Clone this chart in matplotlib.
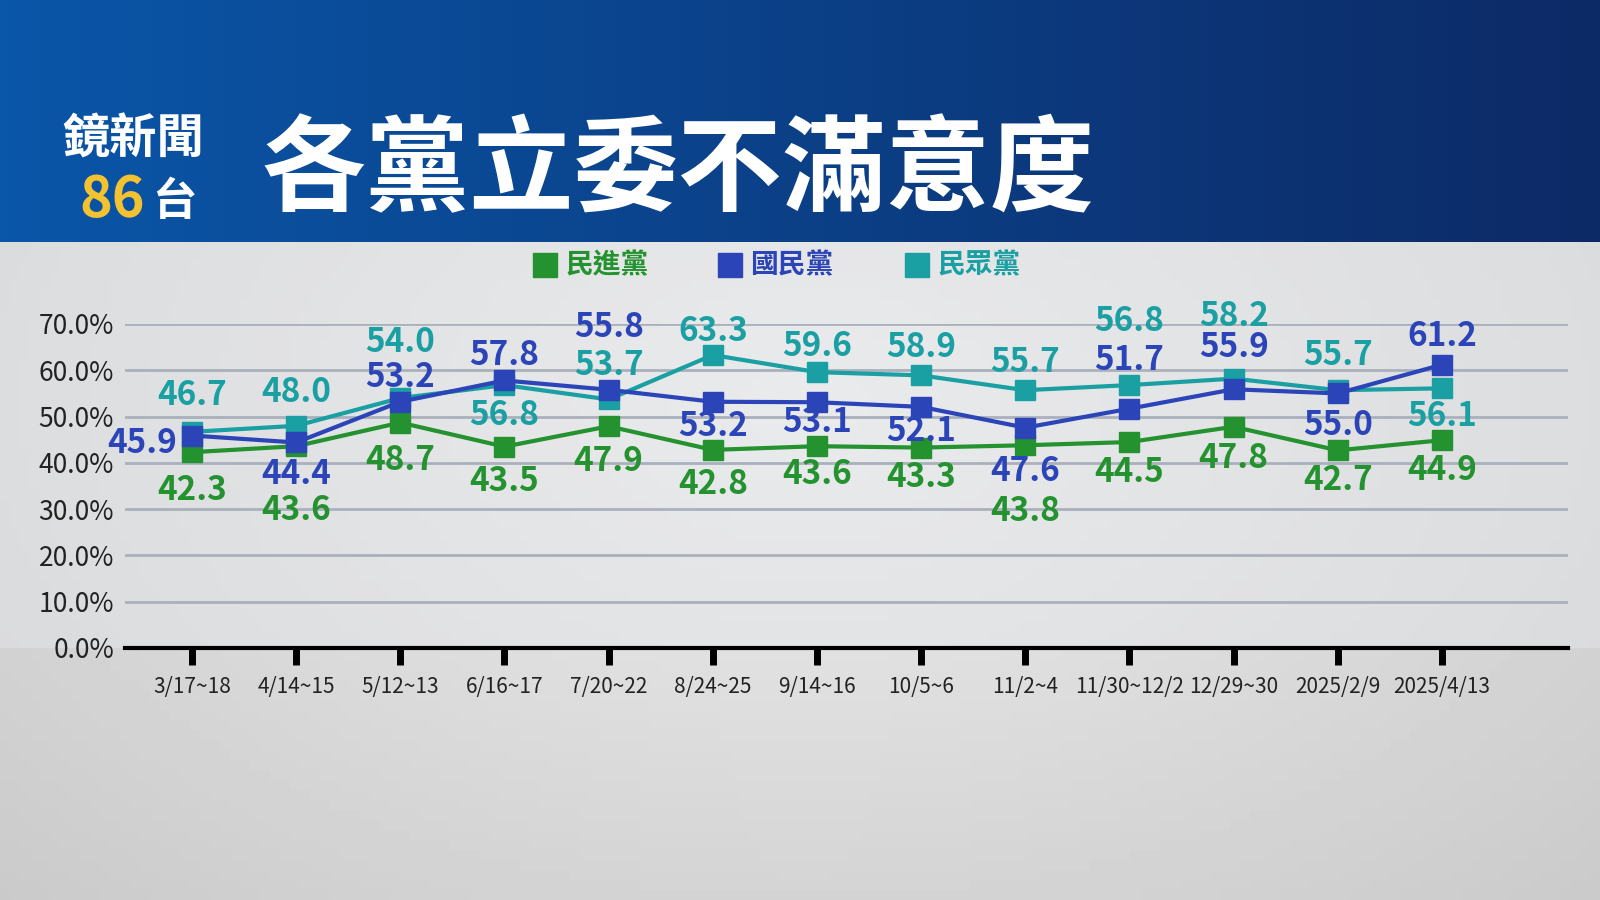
import matplotlib
matplotlib.use("Agg")
import matplotlib.pyplot as plt
import numpy as np
from matplotlib.patches import Rectangle

plt.rcParams['font.family'] = ['Noto Sans CJK TC', 'DejaVu Sans']

dates = ["3/17~18", "4/14~15", "5/12~13", "6/16~17", "7/20~22", "8/24~25", "9/14~16",
         "10/5~6", "11/2~4", "11/30~12/2", "12/29~30", "2025/2/9", "2025/4/13"]
dpp = [42.3, 43.6, 48.7, 43.5, 47.9, 42.8, 43.6, 43.3, 43.8, 44.5, 47.8, 42.7, 44.9]
kmt = [45.9, 44.4, 53.2, 57.8, 55.8, 53.2, 53.1, 52.1, 47.6, 51.7, 55.9, 55.0, 61.2]
tpp = [46.7, 48.0, 54.0, 56.8, 53.7, 63.3, 59.6, 58.9, 55.7, 56.8, 58.2, 55.7, 56.1]
names = ["民進黨", "國民黨", "民眾黨"]

GREEN, BLUE, TEAL = "#23922f", "#2b45b8", "#1a9fa3"

# label offsets in pixels (dx, dy)
dpp_off = [(0, -38), (0, -64), (0, -38), (0, -35), (0, -35), (0, -35), (0, -28), (0, -30), (0, -66), (0, -30), (0, -32), (0, -30), (0, -30)]
kmt_off = [(-50, -8), (0, -32), (0, 24), (0, 25), (0, 62), (0, -25), (0, -20), (0, -25), (0, -44), (0, 48), (0, 42), (0, -32), (0, 28)]
tpp_off = [(0, 36), (0, 33), (0, 56), (0, -30), (0, 34), (0, 24), (0, 26), (0, 28), (0, 28), (0, 64), (0, 62), (0, 35), (0, -28)]

fig = plt.figure(figsize=(16, 9), dpi=100)

# background
bg = fig.add_axes([0, 0, 1, 1])
yy, xx = np.mgrid[0:90, 0:160]
r = np.sqrt(((xx - 80) / 100.0) ** 2 + ((yy - 40) / 60.0) ** 2)
bg.imshow(0.93 - 0.12 * r, cmap="gray", vmin=0, vmax=1, extent=[0, 1, 0, 1], aspect="auto")
head = np.linspace(0, 1, 200)[None, :]
bg.imshow(head, cmap=matplotlib.colors.LinearSegmentedColormap.from_list("h", ["#0a56a8", "#0d2a66"]),
          extent=[0, 1, 1 - 242 / 900, 1], aspect="auto")
bg.set_xlim(0, 1); bg.set_ylim(0, 1); bg.axis("off")
bg.add_patch(Rectangle((0, 1 - 648 / 900), 1, (648 - 242) / 900, color="#e6e8ec", alpha=0.45, lw=0))

fig.text(133 / 1600, 1 - 140 / 900, "鏡新聞", color="white", fontsize=34, fontweight="bold", ha="center", va="center")
fig.text(112 / 1600, 1 - 200 / 900, "86", color="#f2c230", fontsize=40, fontweight="bold", ha="center", va="center")
fig.text(174 / 1600, 1 - 202 / 900, "台", color="white", fontsize=32, fontweight="bold", ha="center", va="center")
fig.text(262 / 1600, 1 - 172 / 900, "各黨立委不滿意度", color="white", fontsize=75, fontweight="bold", ha="left", va="center")

ax = fig.add_axes([125 / 1600, 1 - 648 / 900, (1568 - 125) / 1600, (648 - 324) / 900])
ax.patch.set_alpha(0)
ax.set_xlim(-0.643, 13.21)
ax.set_ylim(0, 70)
for v in range(10, 80, 10):
    ax.axhline(v, color="#aab0bc", lw=2, zorder=1)
for s in ["top", "right", "left"]:
    ax.spines[s].set_visible(False)
ax.spines["bottom"].set_linewidth(3)
ax.set_yticks(range(0, 80, 10))
ax.set_yticklabels([f"{v:.1f}%" for v in range(0, 80, 10)], fontsize=19, color="#222")
ax.tick_params(axis="y", length=0, pad=8)
x = np.arange(len(dates))
ax.set_xticks(x)
ax.set_xticklabels(dates, fontsize=15, color="#222")
ax.tick_params(axis="x", length=12, width=5, color="black", pad=8)

for vals, col, offs in [(tpp, TEAL, tpp_off), (dpp, GREEN, dpp_off), (kmt, BLUE, kmt_off)]:
    ax.plot(x, vals, color=col, lw=3, marker="s", ms=14, zorder=3, clip_on=False)
    for xi, v, (dx, dy) in zip(x, vals, offs):
        ax.annotate(f"{v:.1f}", (xi, v), xytext=(dx, dy), textcoords="offset pixels",
                    ha="center", va="center", fontsize=24, fontweight="bold", color=col, zorder=4)

for lx, name, col in [(545, names[0], GREEN), (730, names[1], BLUE), (917, names[2], TEAL)]:
    fig.patches.append(Rectangle((lx / 1600 - 12 / 1600, 1 - 277 / 900), 24 / 1600, 24 / 900,
                                 color=col, transform=fig.transFigure, figure=fig))
    fig.text((lx + 20) / 1600, 1 - 265 / 900, name, color=col, fontsize=20, fontweight="bold", va="center")

fig.savefig("out.png", dpi=100)
